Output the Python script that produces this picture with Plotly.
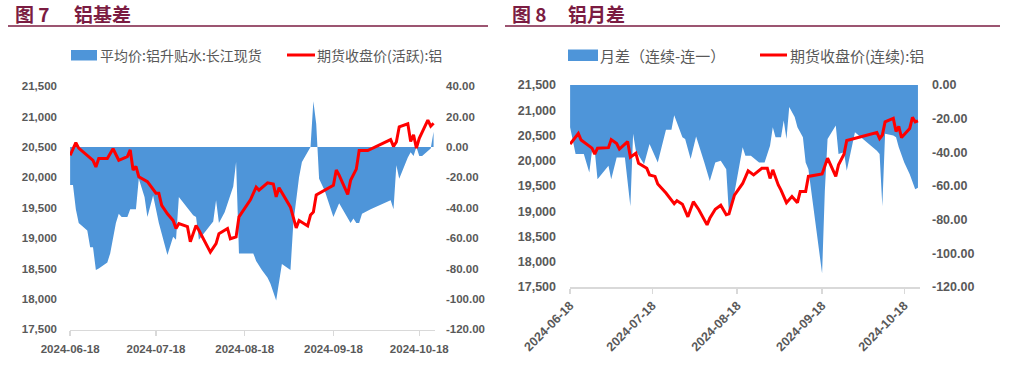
import plotly.graph_objects as go

W, H = 1022, 366
YEAR = "2024-"

# ---------------- 图7 铝基差 ----------------
basis7_name = "平均价:铝升贴水:长江现货"
basis7_dates = ["06-18", "06-19", "06-20", "06-21", "06-24", "06-25", "06-26", "06-27", "06-28",
                "07-01", "07-02", "07-04", "07-05", "07-06", "07-08", "07-09", "07-11", "07-12",
                "07-14", "07-15", "07-17", "07-19", "07-22", "07-24", "07-25", "07-26", "07-31",
                "08-01", "08-02", "08-05", "08-07", "08-08", "08-09", "08-11", "08-14", "08-15",
                "08-16", "08-21", "08-22", "08-24", "08-26", "08-27", "08-29", "08-31",
                "09-03", "09-04", "09-06", "09-07", "09-10", "09-11", "09-12", "09-13", "09-15",
                "09-18", "09-20", "09-24", "09-25", "09-26", "09-27", "09-28",
                "10-01", "10-08", "10-09", "10-10", "10-11", "10-14", "10-15", "10-16", "10-17",
                "10-18", "10-19", "10-22", "10-23"]
basis7_values = [-25, -25, -41, -50, -55, -66, -66, -81, -80,
                 -76, -70, -50, -44, -46, -46, -41, -41, -21,
                 -33, -46, -32, -50, -71, -59, -61, -33, -45,
                 -46, -61, -54, -49, -35, -50, -43, -26, -10,
                 -70, -70, -75, -81, -86, -90, -101, -77,
                 -81, -50, -20, -10, 0, 30, 15, -21, -29,
                 -46, -37, -50, -47, -50, -50, -44,
                 -41, -35, -41, -12, -21, -7, -3.5, -6, 0,
                 -6, -6, -1, 10]

fut7_name = "期货收盘价(活跃):铝"
fut7_dates = ["06-18", "06-20", "06-21", "06-26", "06-27", "06-28",
              "07-01", "07-03", "07-05", "07-08", "07-09", "07-10", "07-11", "07-12", "07-15",
              "07-18", "07-19", "07-20", "07-22", "07-24", "07-25", "07-26", "07-29", "07-30",
              "08-01", "08-02", "08-06", "08-08", "08-09", "08-12", "08-13", "08-15", "08-16",
              "08-20", "08-22", "08-23", "08-26", "08-28", "08-29", "08-30",
              "09-03", "09-05", "09-06", "09-09", "09-10", "09-11", "09-12", "09-18", "09-19",
              "09-20", "09-23", "09-24", "09-26", "09-27", "09-30",
              "10-08", "10-09", "10-10", "10-11", "10-14", "10-15", "10-16", "10-17", "10-18",
              "10-21", "10-22", "10-23"]
fut7_values = [20360, 20570, 20480, 20280, 20170, 20310,
               20310, 20470, 20280, 20340, 20450, 20120, 20180, 20010, 19930,
               19740, 19740, 19540, 19400, 19290, 19160, 19240, 19190, 18940,
               19210, 19130, 18770, 18910, 19075, 19160, 18990, 19020, 19350,
               19630, 19840, 19790, 19910, 19890, 19680, 19830,
               19510, 19170, 19290, 19200, 19380, 19430, 19710, 19870, 20120,
               20035, 19720, 19950, 20135, 20440, 20440,
               20620, 20510, 20580, 20830, 20880, 20590, 20700, 20480, 20640,
               20940, 20840, 20890]

# ---------------- 图8 铝月差 ----------------
spread8_name = "月差（连续-连一）"
spread8_dates = ["06-18", "06-20", "06-23", "06-25", "06-26", "06-27", "06-28",
                 "07-02", "07-03", "07-05", "07-08", "07-10", "07-11", "07-12", "07-15", "07-16",
                 "07-17", "07-20", "07-23", "07-25", "07-26", "07-29", "07-30",
                 "08-01", "08-03", "08-06", "08-08", "08-10", "08-12", "08-14", "08-15", "08-17",
                 "08-20", "08-21", "08-23", "08-26", "08-28", "08-30", "08-31",
                 "09-01", "09-03", "09-04", "09-05", "09-06", "09-08", "09-09", "09-11", "09-12",
                 "09-13", "09-18", "09-19", "09-20", "09-23", "09-24", "09-26", "09-27", "09-28",
                 "09-30",
                 "10-08", "10-09", "10-10", "10-11", "10-14", "10-15", "10-16", "10-18", "10-20",
                 "10-21", "10-22", "10-23"]
spread8_values = [-25, -41, -41, -52, -39, -39, -56,
                  -48, -56, -43, -43, -72, -29, -39, -47, -41,
                  -35, -46, -26.5, -26.5, -18, -31, -32,
                  -44, -30.5, -46, -57, -46, -45, -50, -77, -64,
                  -37, -42, -42, -46, -46, -36, -25,
                  -31, -31, -21, -32, -13, -19, -25, -31, -46,
                  -50, -112, -63, -32, -24, -41, -40, -51, -43,
                  -28,
                  -39, -41, -72, -29, -30, -31, -37, -46, -53,
                  -57, -62, -61]

fut8_name = "期货收盘价(连续):铝"
fut8_dates = ["06-18", "06-21", "06-22", "06-25", "06-26", "06-27", "06-28",
              "07-02", "07-03", "07-05", "07-06", "07-09", "07-10", "07-12", "07-13", "07-16",
              "07-17", "07-19", "07-20", "07-23", "07-25", "07-26", "07-27", "07-29", "07-31",
              "08-02", "08-04", "08-07", "08-08", "08-10", "08-12", "08-14", "08-15", "08-17",
              "08-20", "08-22", "08-24", "08-27", "08-29", "08-30", "08-31",
              "09-02", "09-03", "09-05", "09-07", "09-09", "09-10", "09-12", "09-13", "09-18",
              "09-20", "09-23", "09-24", "09-26", "09-27",
              "10-08", "10-09", "10-10", "10-11", "10-14", "10-15", "10-16", "10-17", "10-20",
              "10-21", "10-22", "10-23"]
fut8_values = [20330, 20540, 20410, 20280, 20250, 20130, 20250,
               20260, 20420, 20340, 20230, 20380, 20070, 20150, 19950, 19850,
               19720, 19690, 19540, 19360, 19220, 19150, 19210, 19140, 18890,
               19190, 19030, 18730, 18860, 19040, 19120, 18930, 18950, 19320,
               19550, 19800, 19720, 19850, 19850, 19650, 19820,
               19520, 19420, 19170, 19290, 19170, 19390, 19390, 19690, 19740,
               20050, 19690, 19920, 20130, 20400,
               20560, 20440, 20510, 20770, 20840, 20580, 20680, 20460, 20640,
               20860, 20770, 20790]

# ---------------- axes ----------------
x_tick_dates = ["2024-06-18", "2024-07-18", "2024-08-18", "2024-09-18", "2024-10-18"]
price_ticks = [17500, 18000, 18500, 19000, 19500, 20000, 20500, 21000, 21500]
price_labels = ["17,500", "18,000", "18,500", "19,000", "19,500", "20,000", "20,500", "21,000", "21,500"]
basis7_ticks = [-120, -100, -80, -60, -40, -20, 0, 20, 40]
basis7_labels = ["-120.00", "-100.00", "-80.00", "-60.00", "-40.00", "-20.00", "0.00", "20.00", "40.00"]
spread8_ticks = [-120, -100, -80, -60, -40, -20, 0]
spread8_labels = ["-120.00", "-100.00", "-80.00", "-60.00", "-40.00", "-20.00", "0.00"]

title7 = ("图 7", "铝基差")
title8 = ("图 8", "铝月差")

BLUE = "#4e95d9"
RED = "#ff0000"
GREY = "#595959"
MAROON = "#7b1c42"
AXIS = "#d9d9d9"
CJK = "Noto Sans CJK SC"
LAT = "Liberation Sans, Arial"


def fx(px):
    return px / W


def fy(py):
    return 1 - py / H


def dates(lst):
    return [YEAR + d for d in lst]


fig = go.Figure()
fig.add_trace(go.Scatter(x=dates(basis7_dates), y=basis7_values, xaxis="x", yaxis="y",
                         mode="lines", line=dict(width=0, color=BLUE), fill="tozeroy",
                         fillcolor=BLUE, name=basis7_name, showlegend=False))
fig.add_trace(go.Scatter(x=dates(fut7_dates), y=fut7_values, xaxis="x", yaxis="y2",
                         mode="lines", line=dict(width=3, color=RED), name=fut7_name,
                         showlegend=False))
fig.add_trace(go.Scatter(x=dates(spread8_dates), y=spread8_values, xaxis="x2", yaxis="y3",
                         mode="lines", line=dict(width=0, color=BLUE), fill="tozeroy",
                         fillcolor=BLUE, name=spread8_name, showlegend=False))
fig.add_trace(go.Scatter(x=dates(fut8_dates), y=fut8_values, xaxis="x2", yaxis="y4",
                         mode="lines", line=dict(width=3, color=RED), name=fut8_name,
                         showlegend=False))

tf7 = dict(family=LAT, size=11.5, color=GREY, weight="bold")
tf8 = dict(family=LAT, size=12.5, color=GREY, weight="bold")

xcommon = dict(type="date", tickvals=x_tick_dates, tickformat="%Y-%m-%d", showgrid=False,
               zeroline=False, showline=True, linecolor=AXIS, linewidth=1.5,
               ticks="outside", ticklen=5, tickcolor=AXIS, tickwidth=1.5, automargin=False)
ycommon = dict(showgrid=False, zeroline=False, showline=False, ticks="", automargin=False)

fig.update_layout(
    width=W, height=H, autosize=False,
    margin=dict(l=0, r=0, t=0, b=0, pad=0, autoexpand=False),
    paper_bgcolor="white", plot_bgcolor="white",
    showlegend=False, hovermode=False, dragmode=False,
    xaxis=dict(domain=[fx(70), fx(435)], anchor="y",
               range=["2024-06-17 23:00", "2024-10-23 12:00"],
               tickangle=0, tickfont=tf7, ticklabelstandoff=3, **xcommon),
    yaxis=dict(domain=[fy(329.5), fy(86)], anchor="x", side="right",
               range=[-120.05, 40.05], tickvals=basis7_ticks, ticktext=basis7_labels,
               tickfont=tf7, ticklabelstandoff=10, **ycommon),
    yaxis2=dict(overlaying="y", anchor="x", side="left",
                range=[17499, 21501], tickvals=price_ticks, ticktext=price_labels,
                tickfont=tf7, ticklabelstandoff=12, **ycommon),
    xaxis2=dict(domain=[fx(570), fx(920)], anchor="y3",
                range=["2024-06-17 23:00", "2024-10-23 18:00"],
                tickangle=-45, tickfont=tf8, **xcommon),
    yaxis3=dict(domain=[fy(287), fy(85)], anchor="x2", side="right",
                range=[-120.05, 0.05], tickvals=spread8_ticks, ticktext=spread8_labels,
                tickfont=tf8, ticklabelstandoff=11, **ycommon),
    yaxis4=dict(overlaying="y3", anchor="x2", side="left",
                range=[17499, 21501], tickvals=price_ticks, ticktext=price_labels,
                tickfont=tf8, ticklabelstandoff=13, **ycommon),
)

shapes = [
    # title underlines
    dict(type="line", xref="paper", yref="paper", x0=fx(8), x1=fx(488), y0=fy(26), y1=fy(26),
         line=dict(color=MAROON, width=1.5)),
    dict(type="line", xref="paper", yref="paper", x0=fx(505), x1=fx(1000), y0=fy(26), y1=fy(26),
         line=dict(color=MAROON, width=1.5)),
    # legend symbols
    dict(type="rect", xref="paper", yref="paper", x0=fx(71), x1=fx(97), y0=fy(60.5), y1=fy(50),
         fillcolor=BLUE, line=dict(width=0)),
    dict(type="line", xref="paper", yref="paper", x0=fx(287), x1=fx(315), y0=fy(55), y1=fy(55),
         line=dict(color=RED, width=3)),
    dict(type="rect", xref="paper", yref="paper", x0=fx(568), x1=fx(598), y0=fy(61), y1=fy(49.5),
         fillcolor=BLUE, line=dict(width=0)),
    dict(type="line", xref="paper", yref="paper", x0=fx(760), x1=fx(787), y0=fy(55), y1=fy(55),
         line=dict(color=RED, width=3)),
]
fig.update_layout(shapes=shapes)


def label(text, px, py, size, color=GREY, weight="normal"):
    return dict(text=text, xref="paper", yref="paper", x=fx(px), y=fy(py),
                xanchor="left", yanchor="middle", showarrow=False,
                font=dict(family=CJK, size=size, color=color, weight=weight))


annotations = [
    label(title7[0], 13, 13, 19, MAROON, "bold"),
    label(title7[1], 72, 13, 19, MAROON, "bold"),
    label(title8[0], 510, 13, 19, MAROON, "bold"),
    label(title8[1], 566, 13, 19, MAROON, "bold"),
    label(basis7_name, 98, 55, 14),
    label(fut7_name, 315, 55, 14),
    label(spread8_name, 598, 55, 15),
    label(fut8_name, 788, 55, 15),
]
fig.update_layout(annotations=annotations)

# no mode bar; remove the default 8px page margin so the figure fills the window exactly
fig.write_html("out.html", config={"displayModeBar": False, "staticPlot": True},
               post_script="document.body.style.margin='0px';")
